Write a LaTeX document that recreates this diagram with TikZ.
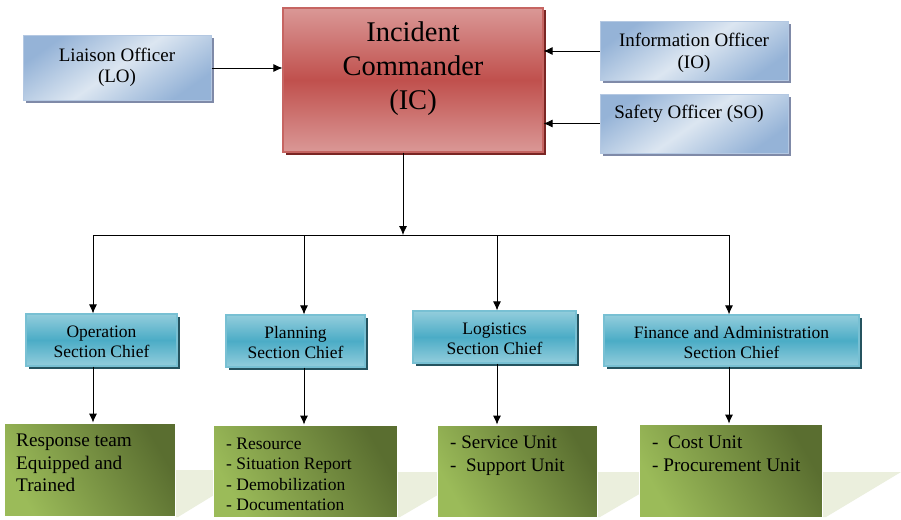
\documentclass[tikz,border=0pt]{standalone}
\usepackage{fontspec}
\setmainfont{Liberation Serif}
\usetikzlibrary{arrows.meta,shadows}
\definecolor{blueD}{HTML}{95B3D7}
\definecolor{blueL}{HTML}{DCE6F1}
\definecolor{blueB}{HTML}{B4C8E2}
\definecolor{blueS}{HTML}{7F8AA8}
\definecolor{redD}{HTML}{C0504D}
\definecolor{redL}{HTML}{DA9896}
\definecolor{redB}{HTML}{C66562}
\definecolor{redS}{HTML}{7A2624}
\definecolor{tealD}{HTML}{4BACC6}
\definecolor{tealL}{HTML}{93CDDC}
\definecolor{tealB}{HTML}{78C0D3}
\definecolor{tealS}{HTML}{25535F}
\definecolor{greenL}{HTML}{9BBB59}
\definecolor{greenD}{HTML}{5A6E30}
\definecolor{paleG}{HTML}{EBEFDD}
\tikzset{
  boxshadow/.style={general shadow={fill=#1, shadow xshift=2.5pt, shadow yshift=-2.5pt}},
  bluebox/.style={draw=blueB, line width=1pt, top color=blueD, bottom color=blueD, middle color=blueL, shading angle=35, boxshadow=blueS, inner sep=0pt},
  icbox/.style={draw=redB, line width=1.2pt, top color=redL, bottom color=redL, middle color=redD, boxshadow=redS, inner sep=0pt},
  secbox/.style={draw=tealB, line width=1.2pt, top color=tealL, bottom color=tealL, middle color=tealD, boxshadow=tealS, inner sep=0pt},
  grnbox/.style={draw=white, line width=0.8pt, left color=greenL, right color=greenD, shading angle=120, inner sep=0pt},
  sectext/.style={align=center, inner sep=0pt, font=\fontsize{17.5}{20}\selectfont},
  grntext/.style={anchor=north west, align=left, inner sep=0pt},
  arr/.style={-{Latex[length=9pt,width=8pt]}, line width=0.8pt, black},
  ln/.style={line width=0.8pt, black},
  paleshadow/.style={fill=paleG, draw=none}
}
\begin{document}
\begin{tikzpicture}[x=1pt,y=-1pt]
\path[use as bounding box, fill=white] (0,0) rectangle (901,519);

% pale perspective shadows of the green boxes
\fill[paleshadow] (175,470) -- (255,470) -- (178,517) -- (175,517) -- cycle;
\fill[paleshadow] (397,472) -- (477,472) -- (400,517) -- (397,517) -- cycle;
\fill[paleshadow] (597,472) -- (677,472) -- (600,517) -- (597,517) -- cycle;
\fill[paleshadow] (822,472) -- (901,472) -- (826,517) -- (822,517) -- cycle;

% top row
\node[bluebox, minimum width=188pt, minimum height=64pt] (lo) at (117,68) {};
\node[align=center, inner sep=0pt, font=\fontsize{19}{21}\selectfont] (lot) at (117,67) {Liaison Officer\\(LO)};
\node[icbox, minimum width=260pt, minimum height=144pt] (ic) at (413,80) {};
\node[align=center, inner sep=0pt, font=\fontsize{28.5}{34}\selectfont] (ict) at (413,68.5) {Incident\\Commander\\(IC)};
\node[bluebox, minimum width=188pt, minimum height=58pt] (io) at (694,51) {};
\node[align=center, inner sep=0pt, font=\fontsize{19}{22}\selectfont] (iot) at (694,53) {Information Officer\\(IO)};
\node[bluebox, minimum width=188pt, minimum height=59pt] (so) at (694,123.5) {};
\node[inner sep=0pt, font=\fontsize{19}{22}\selectfont] (sot) at (689,114) {Safety Officer (SO)};

% section chiefs
\node[secbox, minimum width=151pt, minimum height=52pt] (op) at (101.5,340) {};
\node[secbox, minimum width=139pt, minimum height=52pt] (pl) at (295.5,341) {};
\node[secbox, minimum width=163pt, minimum height=52pt] (lg) at (494.5,337) {};
\node[secbox, minimum width=255pt, minimum height=51pt] (fa) at (731.5,340.5) {};
\node[sectext] (opt) at (101.5,342) {Operation\\Section Chief};
\node[sectext] (plt) at (295.5,343) {Planning\\Section Chief};
\node[sectext] (lgt) at (494.5,339) {Logistics\\Section Chief};
\node[sectext] (fat) at (731.5,343) {Finance and Administration\\Section Chief};

% green boxes
\node[grnbox, minimum width=171pt, minimum height=93pt] (g1) at (89.5,469.5) {};
\node[grnbox, minimum width=184pt, minimum height=92pt] (g2) at (305,471) {};
\node[grnbox, minimum width=160pt, minimum height=92pt] (g3) at (517,471) {};
\node[grnbox, minimum width=183pt, minimum height=93pt] (g4) at (730.5,470.5) {};

\node[grntext, font=\fontsize{19.2}{22.5}\selectfont] (g1t) at (16,434) {Response team\\Equipped and\\Trained};
\node[grntext, font=\fontsize{17.5}{20.3}\selectfont] (g2t) at (226,438) {- Resource\\- Situation Report\\- Demobilization\\- Documentation};
\node[grntext, font=\fontsize{19}{23}\selectfont] (g3t) at (450,436) {- Service Unit\\-\ \ Support Unit};
\node[grntext, font=\fontsize{19.2}{23}\selectfont] (g4t) at (652,435.5) {-\ \ Cost Unit\\- Procurement Unit};

% connectors
\draw[arr] (lo.east) -- (lo.east -| ic.west);
\draw[arr] (io.west) -- (io.west -| ic.east);
\draw[arr] (so.west) -- (so.west -| ic.east);

\coordinate (j) at (403,235);
\coordinate (j1) at (93,235);
\coordinate (j2) at (304,235);
\coordinate (j3) at (497,235);
\coordinate (j4) at (729,235);
\draw[arr] (ic.south -| j) -- (j);
\draw[ln] (j1) -- (j4);
\draw[arr] (j1) -- (j1 |- op.north);
\draw[arr] (j2) -- (j2 |- pl.north);
\draw[arr] (j3) -- (j3 |- lg.north);
\draw[arr] (j4) -- (j4 |- fa.north);

\draw[arr] (op.south -| j1) -- (g1.north -| j1);
\draw[arr] (pl.south -| j2) -- (g2.north -| j2);
\draw[arr] (lg.south -| j3) -- (g3.north -| j3);
\draw[arr] (fa.south -| j4) -- (g4.north -| j4);
\end{tikzpicture}
\end{document}
